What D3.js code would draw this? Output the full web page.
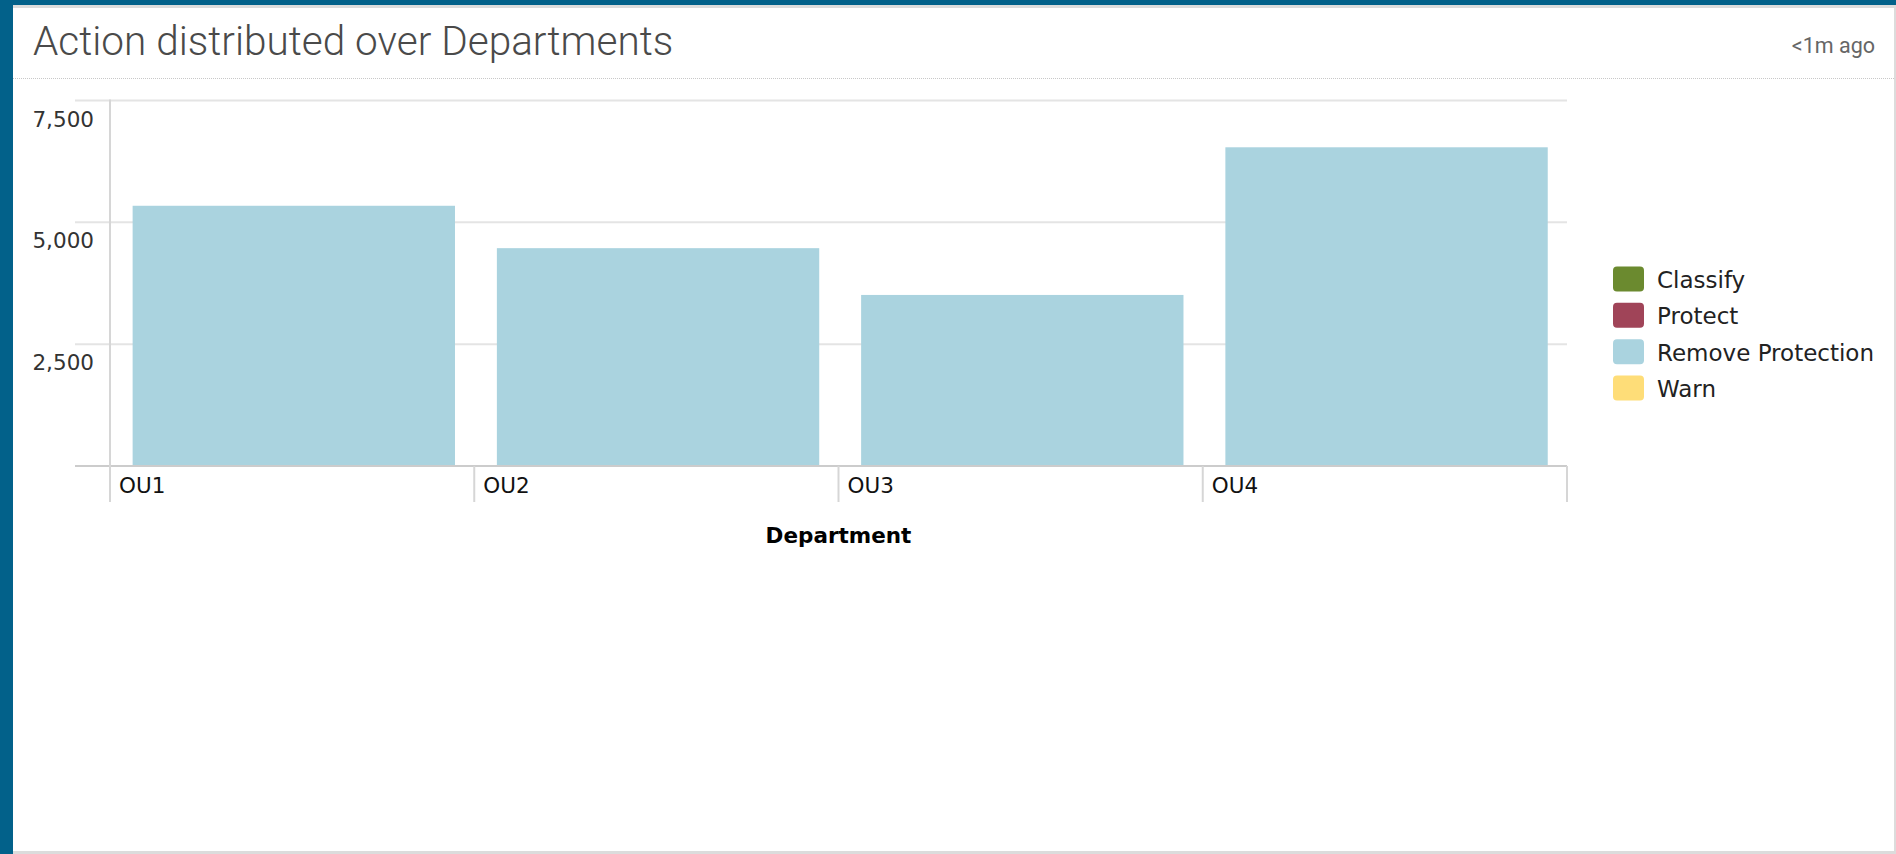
<!DOCTYPE html>
<html>
<head>
<meta charset="utf-8">
<script src="https://cdn.jsdelivr.net/npm/d3@7"></script>
<style>
  html, body { margin: 0; padding: 0; background: #02618a; overflow: hidden; }
  svg { display: block; }
</style>
</head>
<body>
<svg id="chart" width="1896" height="854"></svg>
<script>
// ---- data ----
const departments = ["OU1", "OU2", "OU3", "OU4"];
const actions = ["Classify", "Protect", "Remove Protection", "Warn"];
const classifyValues = [0, 0, 0, 0];
const protectValues = [0, 0, 0, 0];
const removeProtectionValues = [5340, 4470, 3510, 6540];
const warnValues = [0, 0, 0, 0];
const yTickValues = [2500, 5000, 7500];
const titleText = "Action distributed over Departments";
const updatedText = "<1m ago";
const xAxisTitle = "Department";

// ---- styling ----
const actionColors = ["#6b8a2f", "#a04458", "#aad3df", "#fedd78"];
const W = 1896, H = 854;
const plot = { left: 110, right: 1567, top: 100.5, bottom: 466 };

const svg = d3.select("#chart");

// card
svg.append("rect").attr("x", 13).attr("y", 5).attr("width", W - 13).attr("height", H - 5).attr("fill", "#dcdcdc");
svg.append("rect").attr("x", 13).attr("y", 8).attr("width", 1881).attr("height", 843).attr("fill", "#ffffff");

// header
svg.append("text").attr("x", 33).attr("y", 55)
  .attr("font-family", "Roboto, sans-serif").attr("font-weight", 300)
  .attr("font-size", 40.5).attr("fill", "#4a4a4a").text(titleText);
svg.append("text").attr("x", 1875).attr("y", 53).attr("text-anchor", "end")
  .attr("font-family", "Roboto, sans-serif").attr("font-size", 21.5)
  .attr("fill", "#666").text(updatedText);
svg.append("line").attr("x1", 13).attr("x2", 1894).attr("y1", 78.5).attr("y2", 78.5)
  .attr("stroke", "#c8c8c8").attr("stroke-width", 1).attr("stroke-dasharray", "1,1");

// ---- scales ----
const rows = departments.map((d, i) => ({
  dept: d,
  "Classify": classifyValues[i],
  "Protect": protectValues[i],
  "Remove Protection": removeProtectionValues[i],
  "Warn": warnValues[i]
}));
const stacked = d3.stack().keys(actions)(rows);

const y = d3.scaleLinear().domain([0, 7500]).range([plot.bottom, plot.top]);
const xCell = d3.scaleBand().domain(departments).range([plot.left, plot.right]).padding(0);
const x = d3.scaleBand().domain(departments).range([plot.left, plot.right])
  .paddingInner(0.115).paddingOuter(0.0575).align(0.54);
const color = d3.scaleOrdinal().domain(actions).range(actionColors);

const font = "'DejaVu Sans', sans-serif";

// gridlines
const g = svg.append("g");
g.selectAll("line.grid").data(yTickValues).join("line")
  .attr("class", "grid")
  .attr("x1", 75).attr("x2", plot.right)
  .attr("y1", d => y(d)).attr("y2", d => y(d))
  .attr("stroke", "#e4e4e4").attr("stroke-width", 2);

// y tick labels (placed below their gridlines)
g.selectAll("text.ylab").data(yTickValues).join("text")
  .attr("class", "ylab")
  .attr("x", 94).attr("y", d => y(d) + 26)
  .attr("text-anchor", "end")
  .attr("font-family", font).attr("font-size", 21.5).attr("fill", "#333")
  .text(d => d3.format(",")(d));

// bars
svg.append("g").selectAll("g").data(stacked).join("g")
  .attr("fill", d => color(d.key))
  .selectAll("rect").data(d => d.filter(p => p[1] > p[0])).join("rect")
  .attr("x", d => x(d.data.dept))
  .attr("width", x.bandwidth())
  .attr("y", d => y(d[1]))
  .attr("height", d => y(d[0]) - y(d[1]));

// baseline
svg.append("line").attr("x1", 75).attr("x2", plot.right)
  .attr("y1", plot.bottom).attr("y2", plot.bottom)
  .attr("stroke", "#cccccc").attr("stroke-width", 2);

// y axis line
svg.append("line").attr("x1", plot.left).attr("x2", plot.left)
  .attr("y1", plot.top - 1).attr("y2", 502)
  .attr("stroke", "#d6d6d6").attr("stroke-width", 2);

// x ticks at category boundaries
const boundaries = departments.map(d => xCell(d)).concat([plot.right]);
svg.append("g").selectAll("line").data(boundaries.slice(1)).join("line")
  .attr("x1", d => d).attr("x2", d => d)
  .attr("y1", plot.bottom).attr("y2", 502)
  .attr("stroke", "#d6d6d6").attr("stroke-width", 2);

// x labels
svg.append("g").selectAll("text").data(departments).join("text")
  .attr("x", d => xCell(d) + 9).attr("y", 493)
  .attr("font-family", font).attr("font-size", 21.5).attr("fill", "#111")
  .text(d => d);

// x axis title
svg.append("text").attr("x", (plot.left + plot.right) / 2).attr("y", 543)
  .attr("text-anchor", "middle")
  .attr("font-family", font).attr("font-weight", "bold")
  .attr("font-size", 21.5).attr("fill", "#000").text(xAxisTitle);

// legend
const legend = svg.append("g");
const legendRow = d3.scalePoint().domain(actions).range([279, 388]);
const items = legend.selectAll("g").data(actions).join("g")
  .attr("transform", d => `translate(1613,${legendRow(d)})`);
items.append("rect").attr("x", 0).attr("y", -12.5).attr("width", 31).attr("height", 25)
  .attr("rx", 4).attr("fill", d => color(d));
items.append("text").attr("x", 44).attr("y", 9)
  .attr("font-family", font).attr("font-size", 23).attr("fill", "#222")
  .text(d => d);
</script>
</body>
</html>
